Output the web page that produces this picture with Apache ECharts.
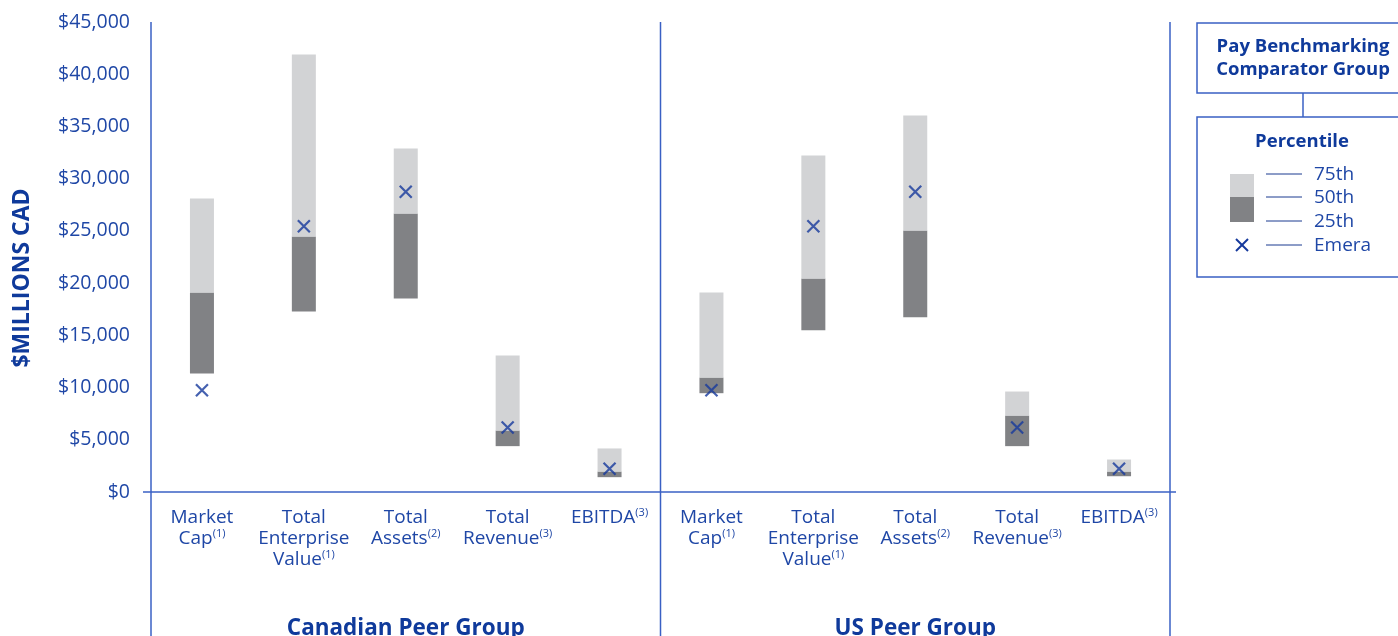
<!DOCTYPE html>
<html>
<head>
<meta charset="utf-8">
<script src="https://cdn.jsdelivr.net/npm/echarts@6/dist/echarts.min.js"></script>
<style>
  html, body { margin: 0; padding: 0; background: #ffffff; }
  #chart { width: 1398px; height: 636px; }
</style>
</head>
<body>
<div id="chart"></div>
<script>
// Peer groups and the five size metrics shown for each
const groups = ['Canadian Peer Group', 'US Peer Group'];
const metrics = ['Market\nCap', 'Total\nEnterprise\nValue', 'Total\nAssets', 'Total\nRevenue', 'EBITDA'];
const notes = ['(1)', '(1)', '(2)', '(3)', '(3)'];

// Percentile values ($ millions CAD): Canadian metrics first, then US
const p25 = [11350, 17280, 18530, 4390, 1420, 9460, 15490, 16740, 4390, 1510];
const p50 = [19100, 24460, 26670, 5890, 1960, 10960, 20440, 25040, 7320, 1960];
const p75 = [28100, 41890, 32890, 13070, 4170, 19100, 32220, 36050, 9620, 3110];
const emera = [9750, 25450, 28740, 6180, 2220, 9750, 25450, 28740, 6180, 2220];

// Y axis ticks
const yMin = 0, yMax = 45000, yStep = 5000;

const BLUE_TEXT = '#1f47a6';
const BLUE_BOLD = '#0f3a9b';
const BLUE_LINE = '#3a60c4';
const MARK = '#16399c';
const LIGHT = '#d2d3d5';
const DARK = '#818285';
const FONT = '"Open Sans", "Noto Sans", sans-serif';

const slots = p25.map((_, i) => String(i));
const lowerBand = p50.map((v, i) => v - p25[i]);
const upperBand = p75.map((v, i) => v - p50[i]);

const chart = echarts.init(document.getElementById('chart'), null, { renderer: 'canvas' });

const option = {
  animation: false,
  backgroundColor: '#ffffff',
  textStyle: { fontFamily: FONT },
  grid: { left: 151, right: 228, top: 22, bottom: 144 },
  xAxis: {
    type: 'category',
    data: slots,
    boundaryGap: true,
    axisLine: { show: false },
    axisTick: { show: false },
    axisLabel: {
      interval: 0,
      margin: 15,
      color: BLUE_TEXT,
      fontFamily: FONT,
      fontSize: 19,
      lineHeight: 21,
      align: 'center',
      formatter: (v, idx) => {
        const k = idx % metrics.length;
        return metrics[k] + '{s|' + notes[k] + '}';
      },
      rich: {
        s: { fontSize: 11, lineHeight: 17, verticalAlign: 'top', color: BLUE_TEXT, fontFamily: FONT }
      }
    }
  },
  yAxis: {
    type: 'value',
    min: yMin,
    max: yMax,
    interval: yStep,
    axisLine: { show: false },
    axisTick: { show: false },
    splitLine: { show: false },
    axisLabel: {
      margin: 21,
      color: BLUE_TEXT,
      fontFamily: FONT,
      fontSize: 19.5,
      formatter: v => '$' + v.toLocaleString('en-US')
    }
  },
  series: [
    {
      name: 'base',
      type: 'bar',
      stack: 'pct',
      barWidth: 24,
      itemStyle: { color: 'transparent' },
      silent: true,
      data: p25
    },
    {
      name: '25th-50th',
      type: 'bar',
      stack: 'pct',
      barWidth: 24,
      itemStyle: { color: DARK },
      data: lowerBand
    },
    {
      name: '50th-75th',
      type: 'bar',
      stack: 'pct',
      barWidth: 24,
      itemStyle: { color: LIGHT },
      data: upperBand
    },
    {
      name: 'Emera',
      type: 'scatter',
      symbol: 'path://M0,0L10,10M10,0L0,10',
      symbolSize: 12,
      itemStyle: { color: 'none', borderColor: MARK, borderWidth: 2.2 },
      z: 5,
      data: emera
    }
  ]
};

chart.setOption(option);

// Frame lines, group titles and the key, placed from the axes' own scales
function px(x, y) { return chart.convertToPixel({ gridIndex: 0 }, [x, y]); }
const c0 = px(0, 0), c1 = px(1, 0);
const band = c1[0] - c0[0];
const yZero = c0[1];
const yTop = px(0, yMax)[1];
const xLeft = c0[0] - band / 2;
const xMid = px(metrics.length - 1, 0)[0] + band / 2;
const xRight = px(slots.length - 1, 0)[0] + band / 2;
const H = 636;

const line = (x1, y1, x2, y2, color, w) => ({
  type: 'line', silent: true,
  shape: { x1, y1, x2, y2 },
  style: { stroke: color, lineWidth: w }
});
const text = (x, y, t, size, weight, extra) => Object.assign({
  type: 'text', silent: true, x, y,
  style: {
    text: t, fill: weight === 'bold' ? BLUE_BOLD : BLUE_TEXT,
    font: weight + ' ' + size + 'px ' + FONT,
    align: 'center', verticalAlign: 'middle'
  }
}, extra || {});

const graphics = [
  line(xLeft, yTop, xLeft, H, BLUE_LINE, 1.5),
  line(xMid, yTop, xMid, H, BLUE_LINE, 1.5),
  line(xRight, yTop, xRight, H, BLUE_LINE, 1.5),
  line(xLeft - 8, yZero, xRight + 6, yZero, BLUE_LINE, 1.5),
  text((xLeft + xMid) / 2, 629, groups[0], 22.5, 'bold'),
  text((xMid + xRight) / 2, 629, groups[1], 22.5, 'bold'),
  text(22, 278, '$MILLIONS CAD', 23, 'bold', { rotation: Math.PI / 2 })
];

// Key box on the right
const kx = 1197;
graphics.push(
  { type: 'rect', silent: true, shape: { x: kx, y: 23, width: 260, height: 70 },
    style: { fill: 'none', stroke: BLUE_LINE, lineWidth: 1.5 } },
  text(1303, 47, 'Pay Benchmarking', 18.5, 'bold'),
  text(1303, 70, 'Comparator Group', 18.5, 'bold'),
  line(1303, 93, 1303, 117, BLUE_LINE, 1.5),
  { type: 'rect', silent: true, shape: { x: kx, y: 117, width: 260, height: 160 },
    style: { fill: 'none', stroke: BLUE_LINE, lineWidth: 1.5 } },
  text(1302, 142, 'Percentile', 18.5, 'bold'),
  { type: 'rect', silent: true, shape: { x: 1230, y: 174, width: 24, height: 23 }, style: { fill: LIGHT } },
  { type: 'rect', silent: true, shape: { x: 1230, y: 197, width: 24, height: 25 }, style: { fill: DARK } }
);
const keyRows = [['75th', 175], ['50th', 198], ['25th', 222], ['Emera', 246]];
keyRows.forEach(([t, y]) => {
  graphics.push(line(1266, y - 1, 1302, y - 1, '#1b3a90', 1));
  graphics.push(text(1314, y, t, 19, 'normal', { style: {
    text: t, fill: BLUE_TEXT, font: 'normal 19px ' + FONT, align: 'left', verticalAlign: 'middle'
  } }));
});
graphics.push(
  line(1236, 239, 1248, 251, MARK, 2),
  line(1248, 239, 1236, 251, MARK, 2)
);

chart.setOption({ graphic: graphics });
</script>
</body>
</html>
